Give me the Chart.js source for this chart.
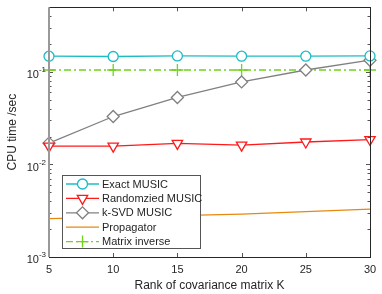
<!DOCTYPE html>
<html>
<head>
<meta charset="utf-8">
<script src="https://cdn.jsdelivr.net/npm/chart.js@4.4.1/dist/chart.umd.min.js"></script>
<style>
  body { margin: 0; background: #fff; }
  canvas { display: block; }
</style>
</head>
<body>
<canvas id="grafico" width="382" height="294"></canvas>
<script>
const rangos = [5, 10, 15, 20, 25, 30]; // Rank of covariance matrix K
const exactMusic = [0.148, 0.147, 0.149, 0.148, 0.148, 0.149];
const randMusic = [0.0158, 0.0158, 0.0169, 0.0162, 0.0175, 0.0186];
const ksvdMusic = [0.017, 0.033, 0.053, 0.078, 0.105, 0.134];
const propagator = [0.0026, 0.0027, 0.0028, 0.0029, 0.0031, 0.0033];
const matrixInverse = [0.105, 0.105, 0.105, 0.105, 0.105, 0.105];
const ticksY = [0.001, 0.01, 0.1];
const etiquetasY = ['-3', '-2', '-1'];
const ticksX = [5, 10, 15, 20, 25, 30];

const fuente = '"Liberation Sans", Arial, sans-serif';
const colorEje = '#262626';

function puntos(valores) {
  return rangos.map((x, i) => ({ x: x, y: valores[i] }));
}

// ejes estilo MATLAB: caja, ticks hacia dentro, etiquetas 10^n y leyenda
const ejesMatlab = {
  id: 'ejesMatlab',
  afterDraw(chart) {
    const ctx = chart.ctx;
    const a = chart.chartArea;
    const sx = chart.scales.x;
    const sy = chart.scales.y;
    ctx.save();

    ctx.strokeStyle = '#555';
    ctx.lineWidth = 1;
    ctx.beginPath();
    // x ticks (abajo y arriba)
    ticksX.forEach(v => {
      const px = Math.round(sx.getPixelForValue(v)) + 0.5;
      ctx.moveTo(px, a.bottom); ctx.lineTo(px, a.bottom - 4);
      ctx.moveTo(px, a.top); ctx.lineTo(px, a.top + 4);
    });
    // y ticks mayores y menores
    for (let e = -3; e <= -1; e++) {
      for (let m = 1; m <= 9; m++) {
        const v = m * Math.pow(10, e);
        if (v > 0.5) break;
        const py = Math.round(sy.getPixelForValue(v)) + 0.5;
        const len = m === 1 ? 4 : 2.5;
        ctx.moveTo(a.left, py); ctx.lineTo(a.left + len, py);
        ctx.moveTo(a.right, py); ctx.lineTo(a.right - len, py);
      }
    }
    ctx.stroke();

    // caja
    ctx.strokeStyle = colorEje;
    ctx.strokeRect(Math.round(a.left) + 0.5, Math.round(a.top) + 0.5,
      Math.round(a.right - a.left), Math.round(a.bottom - a.top));
    ctx.strokeStyle = '#999';
    ctx.lineWidth = 2;
    ctx.beginPath();
    ctx.moveTo(a.left, a.top); ctx.lineTo(a.left, a.bottom);
    ctx.stroke();

    // etiquetas
    ctx.fillStyle = colorEje;
    ctx.textBaseline = 'middle';
    ticksY.forEach((v, i) => {
      const py = sy.getPixelForValue(v);
      ctx.font = '8px ' + fuente;
      ctx.textAlign = 'left';
      const wSup = ctx.measureText(etiquetasY[i]).width;
      ctx.fillText(etiquetasY[i], 46 - wSup, py - 2);
      ctx.font = '11px ' + fuente;
      ctx.textAlign = 'right';
      ctx.fillText('10', 46 - wSup, py + 3);
    });
    ctx.font = '11px ' + fuente;
    ctx.textAlign = 'center';
    ticksX.forEach(v => {
      ctx.fillText(String(v), sx.getPixelForValue(v), a.bottom + 13);
    });
    ctx.font = '12px ' + fuente;
    ctx.fillText('Rank of covariance matrix K', (a.left + a.right) / 2, a.bottom + 29);
    ctx.save();
    ctx.translate(13, (a.top + a.bottom) / 2);
    ctx.rotate(-Math.PI / 2);
    ctx.fillText('CPU time /sec', 0, 0);
    ctx.restore();

    // leyenda
    const lx = 62, ly = 175, lw = 138, lh = 73;
    ctx.fillStyle = '#fff';
    ctx.fillRect(lx, ly, lw, lh);
    ctx.strokeStyle = '#555';
    ctx.lineWidth = 1;
    ctx.strokeRect(lx + 0.5, ly + 0.5, lw, lh);
    chart.data.datasets.forEach((ds, i) => {
      const yy = ly + 9 + i * 14.4;
      ctx.strokeStyle = ds.borderColor;
      ctx.lineWidth = ds.borderWidth;
      ctx.setLineDash(ds.borderDash || []);
      ctx.beginPath();
      ctx.moveTo(66, yy); ctx.lineTo(99, yy);
      ctx.stroke();
      ctx.setLineDash([]);
      if (ds.pointRadius > 0) {
        ctx.fillStyle = ds.pointBackgroundColor || '#fff';
        ctx.strokeStyle = ds.borderColor;
        ctx.lineWidth = ds.pointBorderWidth || ds.borderWidth;
        Chart.helpers.drawPoint(ctx, {
          pointStyle: ds.pointStyle,
          rotation: ds.pointRotation || 0,
          radius: ds.pointRadius,
          borderWidth: ctx.lineWidth
        }, 82.5, yy);
      }
      ctx.fillStyle = colorEje;
      ctx.font = '11px ' + fuente;
      ctx.textAlign = 'left';
      ctx.textBaseline = 'middle';
      ctx.fillText(ds.label, 102, yy + 0.5);
    });
    ctx.restore();
  }
};

new Chart(document.getElementById('grafico'), {
  type: 'line',
  data: {
    datasets: [
      {
        label: 'Exact MUSIC',
        data: puntos(exactMusic),
        borderColor: '#1cbcc4',
        borderWidth: 1.3,
        pointStyle: 'circle',
        pointRadius: 5,
        pointBackgroundColor: '#fff',
        pointBorderWidth: 1.3,
        clip: false
      },
      {
        label: 'Randomzied MUSIC',
        data: puntos(randMusic),
        borderColor: '#ff1a1a',
        borderWidth: 1.3,
        pointStyle: 'triangle',
        pointRotation: 180,
        pointRadius: 6,
        pointBackgroundColor: '#fff',
        pointBorderWidth: 1.3,
        clip: false
      },
      {
        label: 'k-SVD MUSIC',
        data: puntos(ksvdMusic),
        borderColor: '#808080',
        borderWidth: 1.3,
        pointStyle: 'rectRot',
        pointRadius: 6,
        pointBackgroundColor: '#fff',
        pointBorderWidth: 1.3,
        clip: false
      },
      {
        label: 'Propagator',
        data: puntos(propagator),
        borderColor: '#e8890f',
        borderWidth: 1.3,
        pointRadius: 0,
        clip: false
      },
      {
        label: 'Matrix inverse',
        data: puntos(matrixInverse),
        borderColor: '#6fd41a',
        borderWidth: 1.3,
        borderDash: [7, 3, 2, 3],
        pointStyle: 'cross',
        pointRadius: 6,
        pointBorderWidth: 1.3,
        clip: false
      }
    ]
  },
  options: {
    responsive: false,
    devicePixelRatio: 1,
    animation: false,
    layout: { padding: { top: 6, right: 12, left: 0, bottom: 0 } },
    plugins: { legend: { display: false }, tooltip: { enabled: false } },
    scales: {
      x: {
        type: 'linear',
        min: 5,
        max: 30,
        grid: { display: false },
        border: { display: false },
        ticks: { display: false },
        afterFit: s => { s.height = 37; }
      },
      y: {
        type: 'logarithmic',
        min: 0.001,
        max: 0.5,
        grid: { display: false },
        border: { display: false },
        ticks: { display: false },
        afterFit: s => { s.width = 49; }
      }
    }
  },
  plugins: [ejesMatlab]
});
</script>
</body>
</html>
